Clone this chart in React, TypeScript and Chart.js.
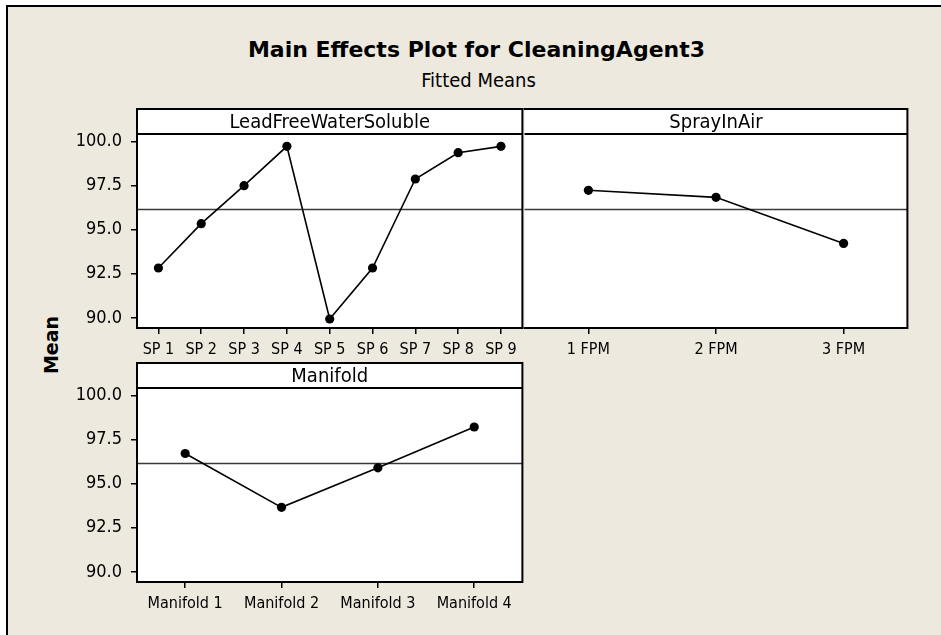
import React, { useEffect, useRef } from 'react';
import { Chart, registerables } from 'chart.js';

Chart.register(...registerables);

// ---------- data ----------
const chartTitle = 'Main Effects Plot for CleaningAgent3';
const chartSubtitle = 'Fitted Means';
const yAxisLabel = 'Mean';

const leadFreeHeader = 'LeadFreeWaterSoluble';
const leadFreeLabels = ['SP 1', 'SP 2', 'SP 3', 'SP 4', 'SP 5', 'SP 6', 'SP 7', 'SP 8', 'SP 9'];
const leadFreeMeans = [92.83, 95.34, 97.49, 99.72, 89.94, 92.83, 97.87, 99.36, 99.72];

const sprayHeader = 'SprayInAir';
const sprayLabels = ['1 FPM', '2 FPM', '3 FPM'];
const sprayMeans = [97.23, 96.83, 94.22];

const manifoldHeader = 'Manifold';
const manifoldLabels = ['Manifold 1', 'Manifold 2', 'Manifold 3', 'Manifold 4'];
const manifoldMeans = [96.71, 93.66, 95.9, 98.21];

const grandMean = 96.15;
const yTickValues = [90, 92.5, 95, 97.5, 100];
const yMin = 89.43;
const yMax = 100.42;

// ---------- style / layout ----------
const BG = '#EDE9DF';
const FONT = '"DejaVu Sans Condensed", "Liberation Sans", sans-serif';
const BOLD_FONT = '"DejaVu Sans", sans-serif';
const HEADER_H = 25;
const PLOT_H = 194;
const Y_AXIS_W = 72;
const X_AXIS_H = 36;
const PAD_TOP = 3;

const makeFramePlugin = (header: string, drawLeft: boolean) => ({
  id: 'panelFrame',
  beforeDraw(chart: any) {
    const { ctx, chartArea: a } = chart;
    ctx.save();
    ctx.fillStyle = '#fff';
    ctx.fillRect(a.left, a.top - HEADER_H, a.right - a.left, a.bottom - a.top + HEADER_H);
    ctx.restore();
  },
  beforeDatasetsDraw(chart: any) {
    const { ctx, chartArea: a } = chart;
    const y = chart.scales.y.getPixelForValue(grandMean);
    ctx.save();
    ctx.strokeStyle = '#3a3a3a';
    ctx.lineWidth = 1.5;
    ctx.beginPath();
    ctx.moveTo(a.left, y);
    ctx.lineTo(a.right, y);
    ctx.stroke();
    ctx.restore();
  },
  afterDraw(chart: any) {
    const { ctx, chartArea: a } = chart;
    const top = a.top - HEADER_H;
    ctx.save();
    ctx.strokeStyle = '#000';
    ctx.lineWidth = 2;
    ctx.beginPath();
    // top, right, bottom
    ctx.moveTo(a.left - 1, top);
    ctx.lineTo(a.right, top);
    ctx.lineTo(a.right, a.bottom);
    ctx.lineTo(a.left - 1, a.bottom);
    // header separator
    ctx.moveTo(a.left, a.top);
    ctx.lineTo(a.right, a.top);
    if (drawLeft) {
      ctx.moveTo(a.left, top);
      ctx.lineTo(a.left, a.bottom);
    }
    ctx.stroke();
    ctx.fillStyle = '#000';
    ctx.font = `20px ${FONT}`;
    ctx.textAlign = 'center';
    ctx.textBaseline = 'middle';
    ctx.fillText(header, (a.left + a.right) / 2, top + HEADER_H / 2 + 1);
    ctx.restore();
  },
});

type PanelProps = {
  header: string;
  labels: string[];
  values: number[];
  plotLeft: number;
  plotTop: number;
  plotW: number;
  showY: boolean;
};

function Panel({ header, labels, values, plotLeft, plotTop, plotW, showY }: PanelProps) {
  const ref = useRef<HTMLCanvasElement>(null);
  const yW = showY ? Y_AXIS_W : 3;
  const canvasLeft = plotLeft - yW;
  const canvasTop = plotTop - HEADER_H - PAD_TOP;
  const cw = yW + plotW + 4;
  const ch = PAD_TOP + HEADER_H + PLOT_H + X_AXIS_H;

  useEffect(() => {
    if (!ref.current) return;
    const chart = new Chart(ref.current, {
      type: 'line',
      data: {
        labels,
        datasets: [
          {
            data: values,
            borderColor: '#000',
            backgroundColor: '#000',
            borderWidth: 1.6,
            pointRadius: 4.6,
            pointHoverRadius: 4.6,
            pointBackgroundColor: '#000',
            pointBorderColor: '#000',
            pointBorderWidth: 0,
            tension: 0,
            clip: false as any,
          },
        ],
      },
      options: {
        responsive: false,
        animation: false,
        devicePixelRatio: 1,
        events: [],
        layout: { padding: { top: PAD_TOP + HEADER_H, left: showY ? 0 : 3, right: 4, bottom: 0 } },
        plugins: {
          legend: { display: false },
          tooltip: { enabled: false },
          title: { display: false },
        },
        scales: {
          x: {
            type: 'category',
            offset: true,
            grid: {
              display: true,
              drawOnChartArea: false,
              drawTicks: true,
              tickLength: 6,
              color: '#000',
              lineWidth: 1.5,
            },
            border: { display: false },
            ticks: {
              color: '#000',
              font: { family: FONT, size: 16 },
              padding: 6,
              maxRotation: 0,
              autoSkip: false,
            },
            afterFit: (s: any) => {
              s.height = X_AXIS_H;
            },
          },
          y: {
            type: 'linear',
            min: yMin,
            max: yMax,
            afterBuildTicks: (s: any) => {
              s.ticks = yTickValues.map((v) => ({ value: v }));
            },
            grid: {
              display: true,
              drawOnChartArea: false,
              drawTicks: showY,
              tickLength: 6,
              color: '#000',
              lineWidth: 1.5,
            },
            border: { display: false },
            ticks: {
              display: showY,
              color: '#000',
              font: { family: FONT, size: 18 },
              padding: 9,
              callback: (v: any) => Number(v).toFixed(1),
            },
            afterFit: (s: any) => {
              s.width = showY ? Y_AXIS_W : 0;
            },
          },
        },
      } as any,
      plugins: [makeFramePlugin(header, showY)],
    });
    return () => chart.destroy();
  }, []);

  return (
    <canvas
      ref={ref}
      width={cw}
      height={ch}
      style={{ position: 'absolute', left: canvasLeft, top: canvasTop, width: cw, height: ch }}
    />
  );
}

export default function App() {
  return (
    <div
      style={{
        position: 'absolute',
        left: 0,
        top: 0,
        width: 941,
        height: 635,
        background: '#fff',
        overflow: 'hidden',
      }}
    >
      <div
        style={{
          position: 'absolute',
          left: 6,
          top: 5,
          right: -10,
          bottom: -10,
          background: BG,
          borderLeft: '2px solid #000',
          borderTop: '2px solid #000',
        }}
      />
      <div
        style={{
          position: 'absolute',
          left: 8,
          width: 937,
          top: 39,
          textAlign: 'center',
          fontFamily: BOLD_FONT,
          fontWeight: 'bold',
          fontSize: 22,
          lineHeight: '22px',
          color: '#000',
          whiteSpace: 'nowrap',
        }}
      >
        {chartTitle}
      </div>
      <div
        style={{
          position: 'absolute',
          left: 8,
          width: 941,
          top: 70,
          textAlign: 'center',
          fontFamily: FONT,
          fontSize: 20,
          lineHeight: '20px',
          color: '#000',
          whiteSpace: 'nowrap',
        }}
      >
        {chartSubtitle}
      </div>
      <div
        style={{
          position: 'absolute',
          left: 51,
          top: 345,
          transform: 'translate(-50%, -50%) rotate(-90deg)',
          fontFamily: BOLD_FONT,
          fontWeight: 'bold',
          fontSize: 19,
          lineHeight: '19px',
          color: '#000',
          whiteSpace: 'nowrap',
        }}
      >
        {yAxisLabel}
      </div>
      <Panel
        header={leadFreeHeader}
        labels={leadFreeLabels}
        values={leadFreeMeans}
        plotLeft={137}
        plotTop={134}
        plotW={386}
        showY={true}
      />
      <Panel
        header={sprayHeader}
        labels={sprayLabels}
        values={sprayMeans}
        plotLeft={523}
        plotTop={134}
        plotW={385}
        showY={false}
      />
      <Panel
        header={manifoldHeader}
        labels={manifoldLabels}
        values={manifoldMeans}
        plotLeft={137}
        plotTop={388}
        plotW={386}
        showY={true}
      />
    </div>
  );
}
